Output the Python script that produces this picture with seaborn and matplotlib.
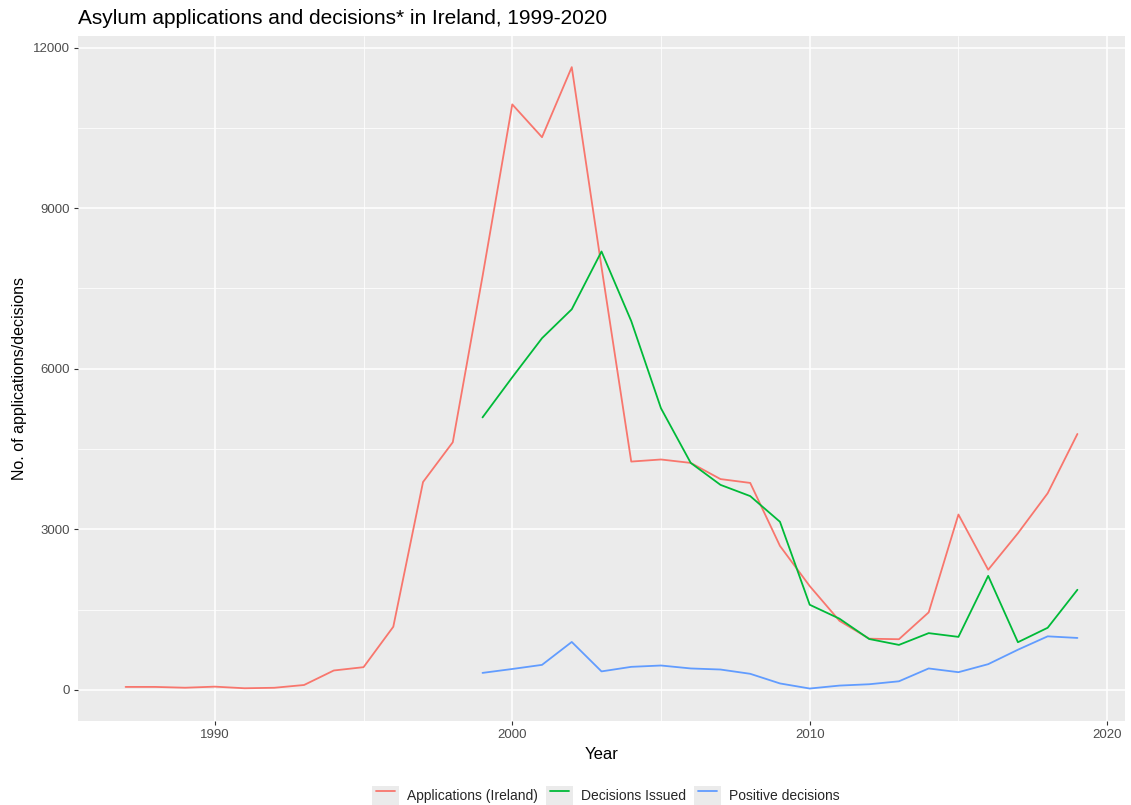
import pandas as pd
import matplotlib.pyplot as plt
import seaborn as sns
from matplotlib.patches import Patch
from matplotlib.lines import Line2D
from matplotlib.legend_handler import HandlerTuple, HandlerLine2D
from matplotlib.ticker import MultipleLocator

# ── data ─────────────────────────────────────────────────────────────
app_years = list(range(1987, 2020))
applications = [55, 55, 40, 60, 30, 39, 91, 362, 424, 1179, 3883, 4626, 7724,
                10938, 10325, 11634, 7900, 4265, 4304, 4240, 3938, 3866, 2689,
                1939, 1290, 956, 946, 1448, 3276, 2244, 2926, 3673, 4781]

dec_years = list(range(1999, 2020))
decisions = [5090, 5840, 6570, 7110, 8190, 6890, 5260, 4240, 3830, 3620, 3140,
             1590, 1330, 950, 840, 1060, 990, 2130, 890, 1160, 1870]
positive = [317, 390, 467, 895, 345, 430, 455, 400, 380, 300, 120,
            25, 80, 105, 160, 400, 330, 480, 750, 1000, 970]

series = ['Applications (Ireland)', 'Decisions Issued', 'Positive decisions']
palette = {
    'Applications (Ireland)': '#F8766D',
    'Decisions Issued': '#00BA38',
    'Positive decisions': '#619CFF',
}

df = pd.concat([
    pd.DataFrame({'Year': app_years, 'value': applications, 'series': series[0]}),
    pd.DataFrame({'Year': dec_years, 'value': decisions, 'series': series[1]}),
    pd.DataFrame({'Year': dec_years, 'value': positive, 'series': series[2]}),
])

sns.set_theme(style='darkgrid', rc={'axes.facecolor': '#ebebeb'})
plt.rcParams['font.family'] = ['Liberation Sans', 'DejaVu Sans']

fig = plt.figure(figsize=(11.31, 8.05), dpi=100)
# panel: x 78..1125, y 36..721 (pixels)
ax = fig.add_axes([78 / 1131, (805 - 721) / 805, 1047 / 1131, 685 / 805])

sns.lineplot(data=df, x='Year', y='value', hue='series', hue_order=series,
             palette=palette, linewidth=1.3, ax=ax, legend=False)

# ggplot-like 5% expansion
xmin, xmax = min(app_years), max(app_years)
ymax = max(applications)
ax.set_xlim(xmin - 0.05 * (xmax - xmin), xmax + 0.05 * (xmax - xmin))
ax.set_ylim(-0.05 * ymax, ymax * 1.05)

ax.xaxis.set_major_locator(MultipleLocator(10))
ax.xaxis.set_minor_locator(MultipleLocator(5))
ax.yaxis.set_major_locator(MultipleLocator(3000))
ax.yaxis.set_minor_locator(MultipleLocator(1500))
ax.grid(which='major', color='white', linewidth=1.1)
ax.grid(which='minor', color='white', linewidth=0.55)
for s in ax.spines.values():
    s.set_visible(False)
ax.tick_params(axis='both', which='major', labelsize=9.5, labelcolor='#4d4d4d',
               length=3, color='#333333', pad=3, left=True, bottom=True, width=0.8)
ax.tick_params(which='minor', length=0)

ax.set_xlabel('Year', fontsize=12, color='black', labelpad=4)
ax.set_ylabel('No. of applications/decisions', fontsize=11.5, color='black', labelpad=4)

fig.text(78 / 1131, 1 - 18 / 805, 'Asylum applications and decisions* in Ireland, 1999-2020',
         fontsize=15, ha='left', va='center', color='black')


class ShortLine(HandlerLine2D):
    # line drawn a bit shorter than the grey key box, like ggplot keys
    def create_artists(self, legend, orig_handle, xdescent, ydescent,
                       width, height, fontsize, trans):
        inset = width * 0.15
        line = Line2D([xdescent + inset, width - inset], [height / 2, height / 2],
                      color=orig_handle.get_color(), linewidth=orig_handle.get_linewidth())
        line.set_transform(trans)
        return [line]


handles = [(Patch(facecolor='#ebebeb', edgecolor='none'),
            Line2D([], [], color=palette[s], linewidth=1.3)) for s in series]
fig.legend(handles, series, loc='center', bbox_to_anchor=(606 / 1131, 1 - 796 / 805),
           ncol=3, frameon=False, fontsize=10, handlelength=1.9, handleheight=1.8,
           handletextpad=0.6, columnspacing=0.6,
           handler_map={tuple: HandlerTuple(ndivide=1, pad=0), Line2D: ShortLine()})

fig.savefig('out.png', dpi=100)
